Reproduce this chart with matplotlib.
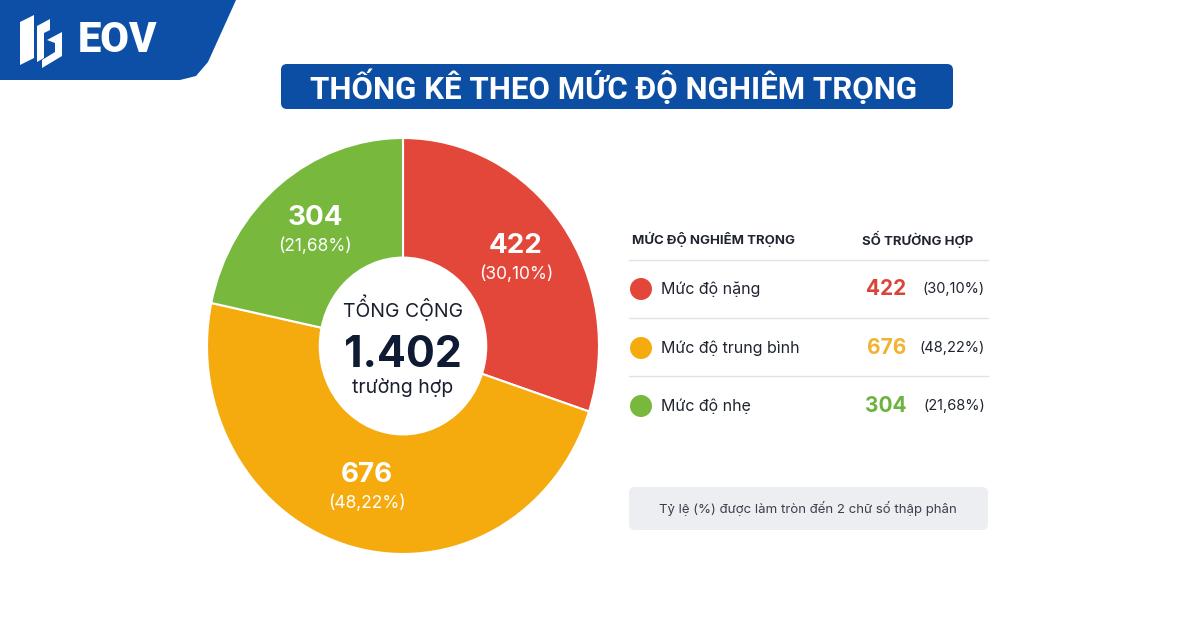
import numpy as np
import matplotlib.pyplot as plt
from matplotlib.patches import FancyBboxPatch, Polygon, Circle

plt.rcParams['font.family'] = ['Inter', 'DejaVu Sans']

# data
levels = ['Mức độ nặng', 'Mức độ trung bình', 'Mức độ nhẹ']
cases = [422, 676, 304]
shares = ['30,10%', '48,22%', '21,68%']
colors = ['#e3473a', '#f5ab0e', '#78b83c']
num_colors = ['#d94538', '#f2b233', '#6cb33f']
total_label = '1.402'

W, H = 1200, 630
fig = plt.figure(figsize=(W / 100, H / 100), dpi=100)
fig.patch.set_facecolor('white')

# overlay in pixel coords
bg = fig.add_axes([0, 0, 1, 1])
bg.set_xlim(0, W)
bg.set_ylim(H, 0)
bg.axis('off')

# logo block top-left
logo = Polygon([[0, 0], [236, 0], [208, 62], [196, 76], [180, 80], [0, 80]],
               closed=True, fc='#0d4fa6', ec='none')
bg.add_patch(logo)
bg.add_patch(Polygon([[20, 22], [34, 15], [34, 58], [20, 65]], fc='white', ec='none'))
bg.add_patch(Polygon([[37, 26], [50, 19], [50, 30], [44, 33], [44, 58], [37, 62]], fc='white', ec='none'))
bg.add_patch(Polygon([[47, 40], [62, 32], [62, 56], [42, 68], [42, 60], [55, 52], [55, 43]], fc='white', ec='none'))
bg.text(78, 41, 'EOV', color='white', fontsize=30, fontweight='heavy',
        family=['Roboto', 'DejaVu Sans'], ha='left', va='center')

# title box
title_box = FancyBboxPatch((281, 64), 672, 45, boxstyle='round,pad=0,rounding_size=6',
                           fc='#0b4ea4', ec='none')
bg.add_patch(title_box)
bg.text(614, 87, 'THỐNG KÊ THEO MỨC ĐỘ NGHIÊM TRỌNG', color='white', fontsize=22.5,
        fontweight='bold', family=['Roboto', 'DejaVu Sans'], ha='center', va='center')

# donut
cx, cy, rx, ry = 403, 346, 196, 208
pax = fig.add_axes([(cx - rx) / W, 1 - (cy + ry) / H, 2 * rx / W, 2 * ry / H])
wedges, _ = pax.pie(cases, colors=colors, startangle=90, counterclock=False,
                    wedgeprops=dict(edgecolor='white', linewidth=1.5))
pax.set_aspect('auto')
pax.set_xlim(-1, 1)
pax.set_ylim(-1, 1)
pax.add_patch(Circle((0, 0), 0.43, fc='white', ec='none'))
for w, n, s in zip(wedges, cases, shares):
    ang = np.deg2rad((w.theta1 + w.theta2) / 2)
    x, y = 0.71 * np.cos(ang), 0.71 * np.sin(ang)
    pax.text(x, y + 0.065, str(n), color='white', fontsize=20, fontweight='bold',
             ha='center', va='center')
    pax.text(x, y - 0.07, f'({s})', color='white', fontsize=12.5, ha='center', va='center')
pax.text(0, 0.14, 'TỔNG CỘNG', color='#1a1f2e', fontsize=14, ha='center', va='baseline')
pax.text(0, -0.10, total_label, color='#0f1a33', fontsize=31, fontweight='bold',
         ha='center', va='baseline')
pax.text(0, -0.228, 'trường hợp', color='#1a1f2e', fontsize=14, ha='center', va='baseline')

# table
bg.text(632, 239, 'MỨC ĐỘ NGHIÊM TRỌNG', color='#1f2430', fontsize=9.5, fontweight='bold',
        ha='left', va='center')
bg.text(862, 239, 'SỐ TRƯỜNG HỢP', color='#1f2430', fontsize=9.5, fontweight='bold',
        ha='left', va='center')
row_y = [289, 348, 406]
for yy in [260, 318, 376]:
    bg.plot([629, 988], [yy, yy], color='#dfe2e8', lw=1)
for yy, lab, n, s, c, nc in zip(row_y, levels, cases, shares, colors, num_colors):
    bg.add_patch(Circle((641, yy), 11, fc=c, ec='none'))
    bg.text(661, yy, lab, color='#1f2430', fontsize=11.5, ha='left', va='center')
    bg.text(906, yy, str(n), color=nc, fontsize=15, fontweight='bold', ha='right', va='center')
    bg.text(985, yy, f'({s})', color='#1f2430', fontsize=10.5, ha='right', va='center')

# note
note = FancyBboxPatch((629, 487), 359, 43, boxstyle='round,pad=0,rounding_size=6',
                      fc='#eceef2', ec='none')
bg.add_patch(note)
bg.text(808, 509, 'Tỷ lệ (%) được làm tròn đến 2 chữ số thập phân', color='#3a3f4a',
        fontsize=9.5, ha='center', va='center')

fig.savefig('out.png', dpi=100)
